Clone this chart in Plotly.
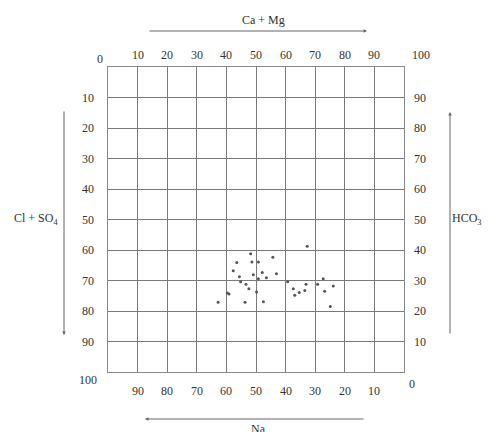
import plotly.graph_objects as go

# Sample values: Ca+Mg (%) on top axis, Cl+SO4 (%) on left axis (downward)
ca_mg = [67.3, 48.2, 55.7, 43.5, 48.6, 50.8, 42.3, 52.1, 49.1, 56.9, 44.4, 50.8,
         53.5, 44.8, 46.6, 60.7, 72.7, 70.8, 66.9, 47.6, 62.6, 76.1, 66.5, 64.6,
         73.2, 50.2, 40.3, 40.9, 63.1, 37.2, 46.3, 52.5, 75.1]
cl_so4 = [58.8, 61.2, 62.4, 64.1, 63.9, 63.9, 66.8, 67.4, 68.1, 67.8, 68.8, 69.4,
          69.1, 70.4, 71.2, 70.4, 69.4, 71.2, 71.2, 72.7, 72.7, 71.8, 73.3, 73.9,
          73.5, 73.8, 74.1, 74.4, 74.8, 77.1, 77.1, 77.0, 78.5]

top_ticks = [10, 20, 30, 40, 50, 60, 70, 80, 90]
left_ticks = [10, 20, 30, 40, 50, 60, 70, 80, 90]
bottom_ticks = [90, 80, 70, 60, 50, 40, 30, 20, 10]
right_ticks = [90, 80, 70, 60, 50, 40, 30, 20, 10]

W, H = 489, 432
L, R, T, B = 108, 404, 67, 372
FONT = "Liberation Serif"
TXT = "#333333"
FS = 12


def px(x):
    return (x - L) / (R - L)


def py(y):
    return (B - y) / (B - T)


fig = go.Figure()
fig.add_trace(go.Scatter(
    x=ca_mg, y=cl_so4, mode="markers",
    marker=dict(size=3, color="#555555"),
    hoverinfo="skip", showlegend=False,
))

ann = []


def label(text, xp, yp, size=FS):
    ann.append(dict(text=text, x=px(xp), y=py(yp), xref="paper", yref="paper",
                    showarrow=False, font=dict(family=FONT, size=size, color=TXT),
                    xanchor="center", yanchor="middle"))


# top tick labels (Ca+Mg)
for v in top_ticks:
    ann.append(dict(text=str(v), x=v, y=py(55), xref="x", yref="paper", showarrow=False,
                    font=dict(family=FONT, size=FS, color=TXT), xanchor="center", yanchor="middle"))
label("0", 100, 59)
label("100", 421, 55)
# left tick labels (Cl+SO4)
for v in left_ticks:
    ann.append(dict(text=str(v), x=px(88), y=v, xref="paper", yref="y", showarrow=False,
                    font=dict(family=FONT, size=FS, color=TXT), xanchor="center", yanchor="middle"))
label("100", 88, 380)
# bottom tick labels (Na)
for v in bottom_ticks:
    ann.append(dict(text=str(v), x=100 - v, y=py(391), xref="x", yref="paper", showarrow=False,
                    font=dict(family=FONT, size=FS, color=TXT), xanchor="center", yanchor="middle"))
label("0", 412, 384)
# right tick labels (HCO3)
for v in right_ticks:
    ann.append(dict(text=str(v), x=px(420), y=100 - v, xref="paper", yref="y", showarrow=False,
                    font=dict(family=FONT, size=FS, color=TXT), xanchor="center", yanchor="middle"))

# axis titles
label("Ca + Mg", 263, 20)
label("Na", 258, 429)
label("Cl + SO<sub>4</sub>", 36, 219)
label("HCO<sub>3</sub>", 467, 219)


def arrow(x0, y0, x1, y1):
    # arrow from (x0,y0) with head at (x1,y1), pixel coordinates
    ann.append(dict(x=px(x1), y=py(y1), ax=x0 - x1, ay=y0 - y1, xref="paper", yref="paper",
                    axref="pixel", ayref="pixel", text="", showarrow=True,
                    arrowhead=2, arrowsize=0.7, arrowwidth=1, arrowcolor="#666666"))


arrow(148, 31, 367, 31)
arrow(365, 419, 145, 419)
arrow(64, 110, 64, 335)
arrow(450, 335, 450, 112)

fig.update_layout(
    width=W, height=H,
    margin=dict(l=L, r=W - R, t=T, b=H - B),
    plot_bgcolor="white", paper_bgcolor="white",
    annotations=ann,
    xaxis=dict(range=[0, 100], dtick=10, showgrid=True, gridcolor="#7a7a7a", gridwidth=1,
               showticklabels=False, zeroline=False, showline=True, linecolor="#8a8a8a",
               mirror=True, ticks=""),
    yaxis=dict(range=[100, 0], dtick=10, showgrid=True, gridcolor="#7a7a7a", gridwidth=1,
               showticklabels=False, zeroline=False, showline=True, linecolor="#8a8a8a",
               mirror=True, ticks=""),
)

fig.write_html("out.html", config={"displayModeBar": False},
               post_script="document.body.style.margin='0';")
